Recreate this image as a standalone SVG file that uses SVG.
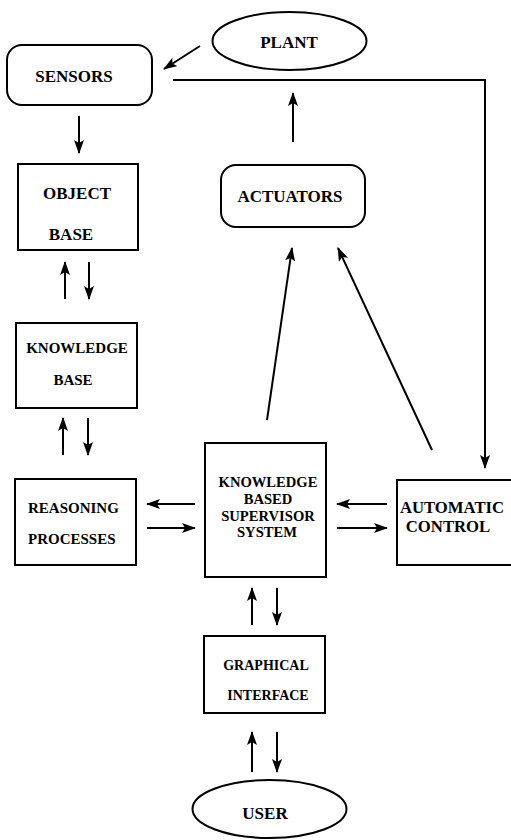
<svg xmlns="http://www.w3.org/2000/svg" width="511" height="840" viewBox="0 0 511 840">
<style>
.box{fill:#fff;stroke:#000;stroke-width:2}
.t{font-family:"Liberation Serif","Times New Roman",serif;font-weight:bold;fill:#000;text-anchor:middle}
.c{stroke:#000;stroke-width:2;fill:none}
.a{marker-end:url(#ah)}
</style>
<defs>
<marker id="ah" markerUnits="userSpaceOnUse" markerWidth="14" markerHeight="10" refX="13" refY="5" orient="auto">
<path d="M0,0 L14,5 L0,10 L3,5 Z" fill="#000"/>
</marker>
</defs>
<rect width="511" height="840" fill="#fff"/>
<g id="plant"><ellipse class="box" cx="289.5" cy="41" rx="77" ry="29"/><text class="t" x="289" y="48" font-size="17">PLANT</text></g>
<g id="sensors"><rect class="box" x="7" y="45" width="145" height="60" rx="15"/><text class="t" x="74" y="82" font-size="17">SENSORS</text></g>
<g id="actuators"><rect class="box" x="221" y="165" width="144" height="62" rx="15"/><text class="t" x="290" y="202" font-size="17">ACTUATORS</text></g>
<g id="object-base"><rect class="box" x="18" y="164" width="120" height="86"/><text class="t" x="77" y="199" font-size="17">OBJECT</text><text class="t" x="71" y="240" font-size="17">BASE</text></g>
<g id="knowledge-base"><rect class="box" x="16" y="323" width="121" height="85"/><text class="t" x="77" y="353" font-size="15">KNOWLEDGE</text><text class="t" x="73" y="385" font-size="15">BASE</text></g>
<g id="reasoning"><rect class="box" x="15" y="479" width="121" height="86"/><text class="t" x="28" y="513" font-size="15" style="text-anchor:start">REASONING</text><text class="t" x="28" y="544" font-size="15" style="text-anchor:start">PROCESSES</text></g>
<g id="kbss"><rect class="box" x="205" y="443" width="121" height="134"/><text class="t" x="268" y="487" font-size="14.6">KNOWLEDGE</text><text class="t" x="268" y="504" font-size="14.6">BASED</text><text class="t" x="268" y="521" font-size="14.6">SUPERVISOR</text><text class="t" x="267" y="537" font-size="14.6">SYSTEM</text></g>
<g id="automatic-control"><rect class="box" x="397" y="480" width="120" height="85"/><text class="t" x="452" y="513" font-size="16.7">AUTOMATIC</text><text class="t" x="448" y="532" font-size="16.7">CONTROL</text></g>
<g id="graphical-interface"><rect class="box" x="204" y="636" width="121" height="77"/><text class="t" x="266" y="670" font-size="14">GRAPHICAL</text><text class="t" x="268" y="700" font-size="14">INTERFACE</text></g>
<g id="user"><ellipse class="box" cx="269.5" cy="809" rx="77" ry="29"/><text class="t" x="265" y="819" font-size="17">USER</text></g>
<g id="connectors">
<line class="c a" x1="200" y1="46" x2="164" y2="69"/>
<polyline class="c a" points="173,80 485,80 485,468"/>
<line class="c a" x1="79" y1="116" x2="79" y2="153"/>
<line class="c a" x1="293" y1="142" x2="293" y2="93"/>
<line class="c a" x1="65" y1="299" x2="65" y2="262"/>
<line class="c a" x1="89" y1="262" x2="89" y2="299"/>
<line class="c a" x1="63" y1="455" x2="63" y2="418"/>
<line class="c a" x1="88" y1="418" x2="88" y2="455"/>
<line class="c a" x1="195" y1="504" x2="147" y2="504"/>
<line class="c a" x1="147" y1="528" x2="195" y2="528"/>
<line class="c a" x1="387" y1="504" x2="337" y2="504"/>
<line class="c a" x1="337" y1="528" x2="387" y2="528"/>
<line class="c a" x1="267" y1="420" x2="292" y2="248"/>
<line class="c a" x1="432" y1="450" x2="338" y2="248"/>
<line class="c a" x1="252" y1="625" x2="252" y2="588"/>
<line class="c a" x1="277" y1="588" x2="277" y2="625"/>
<line class="c a" x1="252" y1="772" x2="252" y2="732"/>
<line class="c a" x1="277" y1="732" x2="277" y2="772"/>
</g>
</svg>
